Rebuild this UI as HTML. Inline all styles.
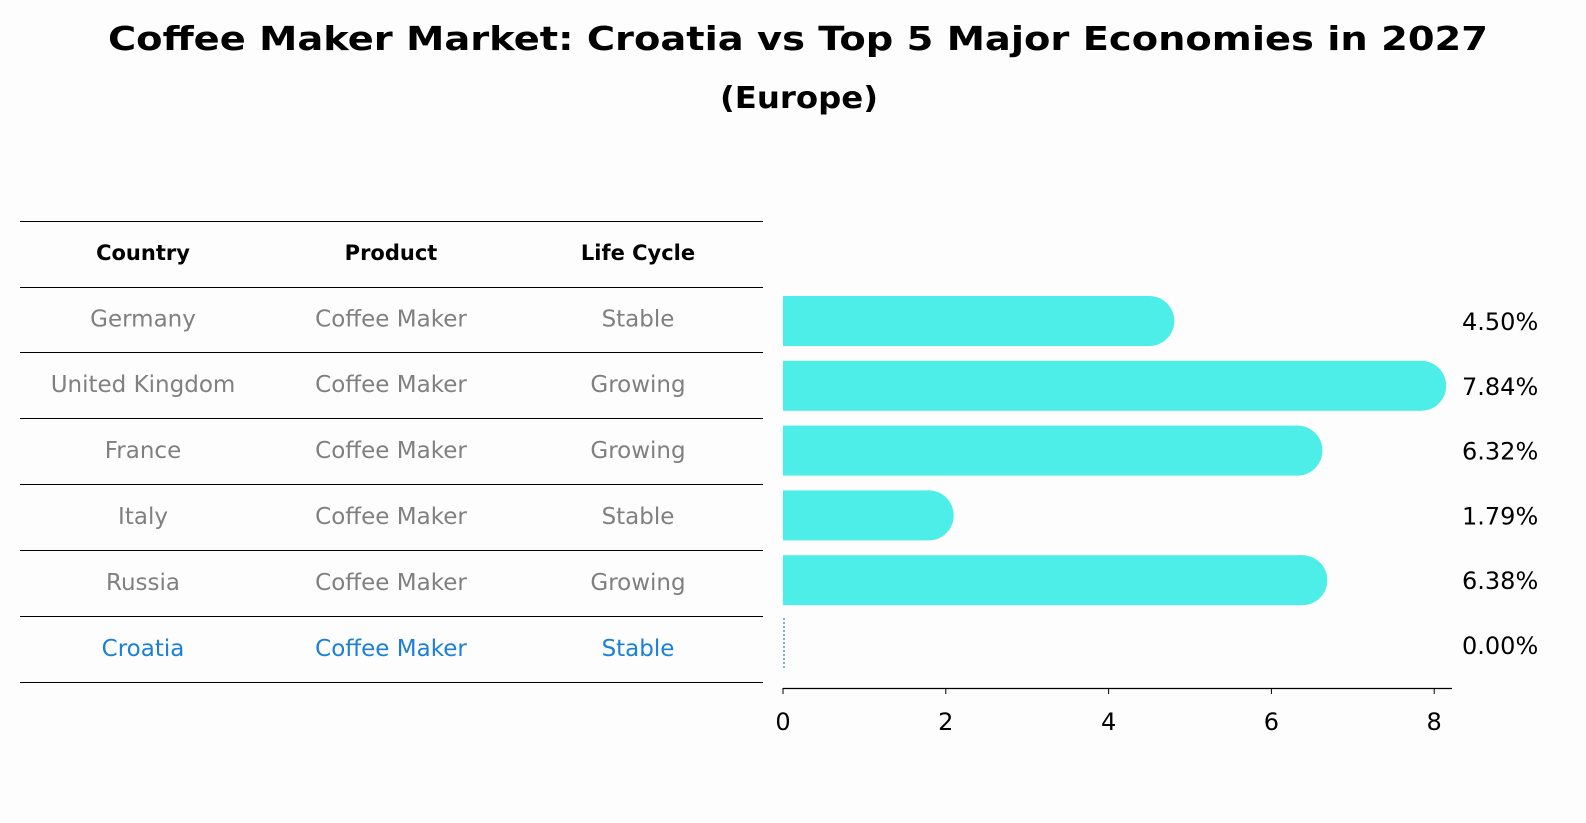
<!DOCTYPE html>
<html><head><meta charset="utf-8"><style>
body{margin:0;background:#fdfdfd;}
svg{display:block;font-family:"DejaVu Sans","Liberation Sans",sans-serif;}
</style></head><body>
<svg id="chart" width="1586" height="823" viewBox="0 0 1586 823" xmlns="http://www.w3.org/2000/svg">
<rect width="1586" height="823" fill="#fdfdfd"/>
<text x="798" y="50" text-anchor="middle" font-size="33" font-weight="bold" textLength="1380" lengthAdjust="spacingAndGlyphs">Coffee Maker Market: Croatia vs Top 5 Major Economies in 2027</text>
<text x="799" y="108" text-anchor="middle" font-size="30" font-weight="bold" textLength="158" lengthAdjust="spacingAndGlyphs">(Europe)</text>
<g id="table"></g>
<g id="bars"></g>
</svg>
<script>
const countries=["Germany","United Kingdom","France","Italy","Russia","Croatia"];
const products=["Coffee Maker","Coffee Maker","Coffee Maker","Coffee Maker","Coffee Maker","Coffee Maker"];
const lifeCycles=["Stable","Growing","Growing","Stable","Growing","Stable"];
const values=[4.50,7.84,6.32,1.79,6.38,0.00];
const valueLabels=["4.50%","7.84%","6.32%","1.79%","6.38%","0.00%"];
const xTicks=[0,2,4,6,8];

const NS="http://www.w3.org/2000/svg";
function mk(tag,attrs,parent){const e=document.createElementNS(NS,tag);for(const k in attrs)e.setAttribute(k,attrs[k]);parent.appendChild(e);return e;}
const x=v=>783+v*81.4;
const rowY=i=>321+i*64.8;
const table=document.getElementById('table');
const bars=document.getElementById('bars');
const lineYs=[221,287,352,418,484,550,616,682];
lineYs.forEach(y=>{const l=mk('line',{x1:20,x2:763,y1:y+0.5,y2:y+0.5,stroke:'#000','stroke-width':1,'shape-rendering':'crispEdges'},table);

});
const colX=[143,391,638];
["Country","Product","Life Cycle"].forEach((h,j)=>{const t=mk('text',{x:colX[j],y:260,'text-anchor':'middle','font-size':21,'font-weight':'bold'},table);t.textContent=h;

});
countries.forEach((c,i)=>{
 const yc=(lineYs[i+1]+lineYs[i+2])/2+7;
 const col=c==="Croatia"?"#1a80d9":"#808080";
 [c,products[i],lifeCycles[i]].forEach((s,j)=>{const t=mk('text',{x:colX[j],y:yc,'text-anchor':'middle','font-size':23,fill:col},table);t.textContent=s;
 
 });
 const y=rowY(i);
 if(values[i]>0){
  const g=mk('g',{},bars);
  
  
  mk('rect',{x:x(0),y:y-25,width:x(values[i])-x(0),height:50,fill:'#4deee8'},g);
  mk('circle',{cx:x(values[i]),cy:y,r:25,fill:'#4deee8'},g);
 } else {
  const l=mk('line',{x1:x(0)+1,x2:x(0)+1,y1:y-27,y2:y+25,stroke:'#1a80d9','stroke-width':1.2,'stroke-dasharray':'2,2'},bars);
  
  
 }
 const t=mk('text',{x:1462,y:y+9,'font-size':24},bars);t.textContent=valueLabels[i];
 
 
});
const ax=mk('line',{x1:x(0),x2:1452,y1:688.5,y2:688.5,stroke:'#000','stroke-width':1.2},bars);


xTicks.forEach(v=>{mk('line',{x1:x(v),x2:x(v),y1:688,y2:694,stroke:'#000'},bars);
 const t=mk('text',{x:x(v),y:730,'text-anchor':'middle','font-size':24},bars);t.textContent=v;
 
 });
</script>
</body></html>
